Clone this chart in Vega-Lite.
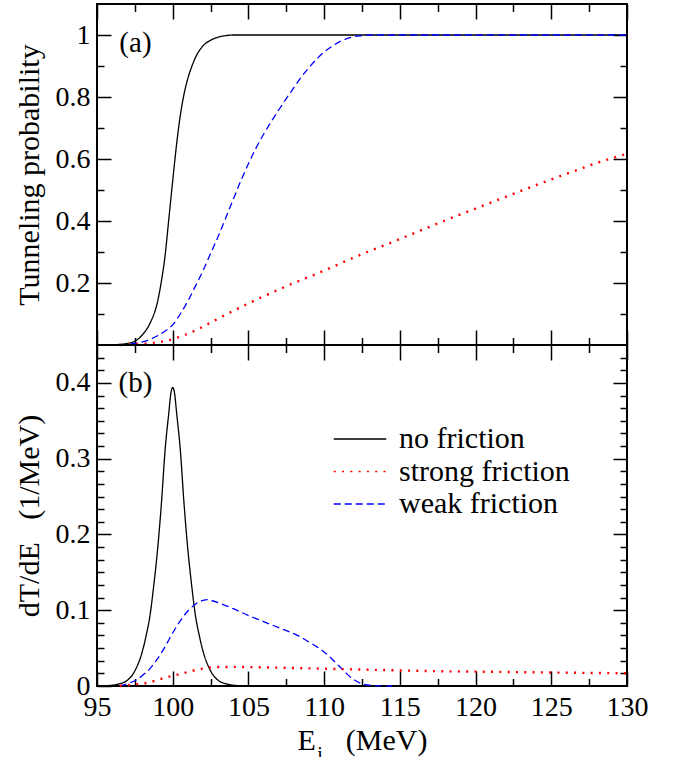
{
  "$schema": "https://vega.github.io/schema/vega-lite/v6.json",
  "padding": {"left": 13, "top": 2, "right": 10, "bottom": 0},
  "background": "white",
  "spacing": 0,
  "bounds": "flush",
  "config": {
    "font": "Liberation Serif",
    "view": {"stroke": "black", "strokeWidth": 2},
    "axis": {"domain": false, "grid": false, "tickColor": "black", "tickWidth": 1.5, "labelFont": "Liberation Serif", "labelFontSize": 28, "labelColor": "black", "titleFont": "Liberation Serif", "titleFontSize": 30, "titleFontWeight": "normal", "titleColor": "black", "labelFlush": false, "labelOverlap": false},
    "legend": {"labelFont": "Liberation Serif", "labelFontSize": 30, "labelColor": "black", "labelLimit": 0},
    "text": {"font": "Liberation Serif"}
  },
  "resolve": {"scale": {"color": "independent", "strokeDash": "independent"}},
  "datasets": {
    "T": [
      {"E": 95, "v": 0, "s": "no friction"}, {"E": 96, "v": 0.001, "s": "no friction"}, {"E": 96.5, "v": 0.002, "s": "no friction"}, {"E": 97, "v": 0.005, "s": "no friction"}, {"E": 97.5, "v": 0.012, "s": "no friction"}, {"E": 98, "v": 0.033, "s": "no friction"}, {"E": 98.5, "v": 0.07, "s": "no friction"}, {"E": 99, "v": 0.14, "s": "no friction"}, {"E": 99.25, "v": 0.205, "s": "no friction"}, {"E": 99.5, "v": 0.29, "s": "no friction"}, {"E": 99.75, "v": 0.41, "s": "no friction"}, {"E": 100, "v": 0.53, "s": "no friction"}, {"E": 100.25, "v": 0.645, "s": "no friction"}, {"E": 100.5, "v": 0.74, "s": "no friction"}, {"E": 100.75, "v": 0.81, "s": "no friction"}, {"E": 101, "v": 0.86, "s": "no friction"}, {"E": 101.25, "v": 0.897, "s": "no friction"}, {"E": 101.5, "v": 0.927, "s": "no friction"}, {"E": 102, "v": 0.965, "s": "no friction"}, {"E": 102.5, "v": 0.983, "s": "no friction"}, {"E": 103, "v": 0.993, "s": "no friction"}, {"E": 103.5, "v": 0.998, "s": "no friction"}, {"E": 104, "v": 1, "s": "no friction"}, {"E": 130, "v": 1, "s": "no friction"},
      {"E": 96.5, "v": 0, "s": "strong friction"}, {"E": 97, "v": 0.0005, "s": "strong friction"}, {"E": 97.5, "v": 0.002, "s": "strong friction"}, {"E": 98, "v": 0.004, "s": "strong friction"}, {"E": 98.5, "v": 0.006, "s": "strong friction"}, {"E": 99, "v": 0.009, "s": "strong friction"}, {"E": 99.5, "v": 0.013, "s": "strong friction"}, {"E": 100, "v": 0.019, "s": "strong friction"}, {"E": 100.5, "v": 0.027, "s": "strong friction"}, {"E": 101, "v": 0.036, "s": "strong friction"}, {"E": 101.5, "v": 0.047, "s": "strong friction"}, {"E": 102, "v": 0.059, "s": "strong friction"}, {"E": 102.5, "v": 0.072, "s": "strong friction"}, {"E": 103, "v": 0.085, "s": "strong friction"}, {"E": 104, "v": 0.11, "s": "strong friction"}, {"E": 105, "v": 0.134, "s": "strong friction"}, {"E": 106, "v": 0.157, "s": "strong friction"}, {"E": 107, "v": 0.179, "s": "strong friction"}, {"E": 108, "v": 0.2, "s": "strong friction"}, {"E": 110, "v": 0.24, "s": "strong friction"}, {"E": 112, "v": 0.283, "s": "strong friction"}, {"E": 114, "v": 0.322, "s": "strong friction"}, {"E": 116, "v": 0.362, "s": "strong friction"}, {"E": 118, "v": 0.402, "s": "strong friction"}, {"E": 120, "v": 0.44, "s": "strong friction"}, {"E": 122, "v": 0.478, "s": "strong friction"}, {"E": 124, "v": 0.516, "s": "strong friction"}, {"E": 126, "v": 0.552, "s": "strong friction"}, {"E": 128, "v": 0.587, "s": "strong friction"}, {"E": 130, "v": 0.617, "s": "strong friction"},
      {"E": 96.5, "v": 0, "s": "weak friction"}, {"E": 97, "v": 0.002, "s": "weak friction"}, {"E": 97.5, "v": 0.005, "s": "weak friction"}, {"E": 98, "v": 0.01, "s": "weak friction"}, {"E": 98.5, "v": 0.018, "s": "weak friction"}, {"E": 99, "v": 0.03, "s": "weak friction"}, {"E": 99.5, "v": 0.045, "s": "weak friction"}, {"E": 100, "v": 0.065, "s": "weak friction"}, {"E": 100.5, "v": 0.1, "s": "weak friction"}, {"E": 101, "v": 0.142, "s": "weak friction"}, {"E": 101.5, "v": 0.19, "s": "weak friction"}, {"E": 102, "v": 0.24, "s": "weak friction"}, {"E": 102.5, "v": 0.295, "s": "weak friction"}, {"E": 103, "v": 0.35, "s": "weak friction"}, {"E": 103.5, "v": 0.41, "s": "weak friction"}, {"E": 104, "v": 0.47, "s": "weak friction"}, {"E": 104.5, "v": 0.53, "s": "weak friction"}, {"E": 105, "v": 0.585, "s": "weak friction"}, {"E": 105.5, "v": 0.635, "s": "weak friction"}, {"E": 106, "v": 0.68, "s": "weak friction"}, {"E": 106.5, "v": 0.72, "s": "weak friction"}, {"E": 107, "v": 0.758, "s": "weak friction"}, {"E": 107.5, "v": 0.795, "s": "weak friction"}, {"E": 108, "v": 0.83, "s": "weak friction"}, {"E": 108.5, "v": 0.865, "s": "weak friction"}, {"E": 109, "v": 0.895, "s": "weak friction"}, {"E": 109.5, "v": 0.922, "s": "weak friction"}, {"E": 110, "v": 0.945, "s": "weak friction"}, {"E": 110.5, "v": 0.963, "s": "weak friction"}, {"E": 111, "v": 0.978, "s": "weak friction"}, {"E": 111.5, "v": 0.988, "s": "weak friction"}, {"E": 112, "v": 0.995, "s": "weak friction"}, {"E": 112.5, "v": 0.998, "s": "weak friction"}, {"E": 113, "v": 1, "s": "weak friction"}, {"E": 130, "v": 1, "s": "weak friction"}
    ],
    "D": [
      {"E": 95, "v": 0, "s": "no friction"}, {"E": 96, "v": 0.001, "s": "no friction"}, {"E": 96.5, "v": 0.003, "s": "no friction"}, {"E": 97, "v": 0.0075, "s": "no friction"}, {"E": 97.5, "v": 0.02, "s": "no friction"}, {"E": 98, "v": 0.046, "s": "no friction"}, {"E": 98.25, "v": 0.067, "s": "no friction"}, {"E": 98.5, "v": 0.093, "s": "no friction"}, {"E": 98.75, "v": 0.133, "s": "no friction"}, {"E": 99, "v": 0.18, "s": "no friction"}, {"E": 99.25, "v": 0.24, "s": "no friction"}, {"E": 99.5, "v": 0.312, "s": "no friction"}, {"E": 99.75, "v": 0.362, "s": "no friction"}, {"E": 99.875, "v": 0.386, "s": "no friction"}, {"E": 100, "v": 0.394, "s": "no friction"}, {"E": 100.125, "v": 0.386, "s": "no friction"}, {"E": 100.25, "v": 0.362, "s": "no friction"}, {"E": 100.5, "v": 0.312, "s": "no friction"}, {"E": 100.75, "v": 0.24, "s": "no friction"}, {"E": 101, "v": 0.18, "s": "no friction"}, {"E": 101.25, "v": 0.133, "s": "no friction"}, {"E": 101.5, "v": 0.093, "s": "no friction"}, {"E": 101.75, "v": 0.067, "s": "no friction"}, {"E": 102, "v": 0.046, "s": "no friction"}, {"E": 102.5, "v": 0.02, "s": "no friction"}, {"E": 103, "v": 0.0075, "s": "no friction"}, {"E": 103.5, "v": 0.003, "s": "no friction"}, {"E": 104, "v": 0.001, "s": "no friction"}, {"E": 105, "v": 0, "s": "no friction"}, {"E": 106, "v": 0, "s": "no friction"},
      {"E": 96.5, "v": 0, "s": "strong friction"}, {"E": 97, "v": 0.001, "s": "strong friction"}, {"E": 97.5, "v": 0.002, "s": "strong friction"}, {"E": 98, "v": 0.003, "s": "strong friction"}, {"E": 98.5, "v": 0.005, "s": "strong friction"}, {"E": 99, "v": 0.008, "s": "strong friction"}, {"E": 99.5, "v": 0.011, "s": "strong friction"}, {"E": 100, "v": 0.0135, "s": "strong friction"}, {"E": 100.5, "v": 0.016, "s": "strong friction"}, {"E": 101, "v": 0.0185, "s": "strong friction"}, {"E": 101.5, "v": 0.021, "s": "strong friction"}, {"E": 102, "v": 0.023, "s": "strong friction"}, {"E": 102.5, "v": 0.0245, "s": "strong friction"}, {"E": 103, "v": 0.025, "s": "strong friction"}, {"E": 104, "v": 0.0252, "s": "strong friction"}, {"E": 105, "v": 0.025, "s": "strong friction"}, {"E": 107, "v": 0.0242, "s": "strong friction"}, {"E": 110, "v": 0.0228, "s": "strong friction"}, {"E": 113, "v": 0.0215, "s": "strong friction"}, {"E": 117, "v": 0.0197, "s": "strong friction"}, {"E": 120, "v": 0.019, "s": "strong friction"}, {"E": 125, "v": 0.0178, "s": "strong friction"}, {"E": 130, "v": 0.0168, "s": "strong friction"},
      {"E": 96.5, "v": 0, "s": "weak friction"}, {"E": 97, "v": 0.003, "s": "weak friction"}, {"E": 97.5, "v": 0.007, "s": "weak friction"}, {"E": 98, "v": 0.014, "s": "weak friction"}, {"E": 98.5, "v": 0.023, "s": "weak friction"}, {"E": 99, "v": 0.036, "s": "weak friction"}, {"E": 99.5, "v": 0.052, "s": "weak friction"}, {"E": 100, "v": 0.07, "s": "weak friction"}, {"E": 100.5, "v": 0.086, "s": "weak friction"}, {"E": 101, "v": 0.099, "s": "weak friction"}, {"E": 101.5, "v": 0.108, "s": "weak friction"}, {"E": 102, "v": 0.113, "s": "weak friction"}, {"E": 102.3, "v": 0.114, "s": "weak friction"}, {"E": 102.6, "v": 0.1125, "s": "weak friction"}, {"E": 103, "v": 0.11, "s": "weak friction"}, {"E": 104, "v": 0.102, "s": "weak friction"}, {"E": 105, "v": 0.093, "s": "weak friction"}, {"E": 106, "v": 0.085, "s": "weak friction"}, {"E": 107, "v": 0.077, "s": "weak friction"}, {"E": 108, "v": 0.069, "s": "weak friction"}, {"E": 108.5, "v": 0.064, "s": "weak friction"}, {"E": 109, "v": 0.058, "s": "weak friction"}, {"E": 109.5, "v": 0.052, "s": "weak friction"}, {"E": 110, "v": 0.045, "s": "weak friction"}, {"E": 110.5, "v": 0.036, "s": "weak friction"}, {"E": 111, "v": 0.026, "s": "weak friction"}, {"E": 111.5, "v": 0.016, "s": "weak friction"}, {"E": 112, "v": 0.008, "s": "weak friction"}, {"E": 112.5, "v": 0.003, "s": "weak friction"}, {"E": 113, "v": 0.001, "s": "weak friction"}, {"E": 114, "v": 0, "s": "weak friction"}, {"E": 114.5, "v": 0, "s": "weak friction"}
    ]
  },
  "vconcat": [
    {
      "width": 530, "height": 341,
      "data": {"name": "T"},
      "resolve": {"axis": {"x": "independent", "y": "independent"}},
      "layer": [
        {
          "transform": [{"filter": "datum.s != 'strong friction'"}],
          "mark": {"type": "line", "strokeWidth": 1.3, "interpolate": "monotone"},
          "encoding": {
            "x": {"field": "E", "type": "quantitative", "scale": {"domain": [95, 130], "nice": false, "zero": false},
                  "axis": {"orient": "bottom", "values": [95, 100, 105, 110, 115, 120, 125, 130], "tickSize": -15, "labels": false, "title": null}},
            "y": {"field": "v", "type": "quantitative", "scale": {"domain": [0, 1.1], "nice": false},
                  "axis": {"orient": "left", "values": [0.2, 0.4, 0.6, 0.8, 1], "format": ".1~f", "tickSize": -14, "labelPadding": 21, "labelFont": "Liberation Serif", "title": "Tunneling probability", "titleFont": "Liberation Serif", "titleX": -59, "titleBaseline": "alphabetic"}},
            "color": {"field": "s", "type": "nominal", "scale": {"domain": ["no friction", "strong friction", "weak friction"], "range": ["#000000", "#ff0000", "#0000ff"]}, "legend": null},
            "strokeDash": {"field": "s", "type": "nominal", "scale": {"domain": ["no friction", "strong friction", "weak friction"], "range": [[1, 0], [2, 6.3], [7, 4]]}, "legend": null}
          }
        },
        {
          "transform": [{"filter": "datum.s == 'strong friction'"}],
          "mark": {"type": "line", "strokeWidth": 2.4, "interpolate": "monotone"},
          "encoding": {
            "x": {"field": "E", "type": "quantitative", "axis": {"orient": "bottom", "values": [97.5, 102.5, 107.5, 112.5, 117.5, 122.5, 127.5], "tickSize": -7.5, "labels": false, "title": null}},
            "y": {"field": "v", "type": "quantitative", "axis": {"orient": "left", "values": [0.1, 0.3, 0.5, 0.7, 0.9], "tickSize": -7, "labels": false, "title": null}},
            "color": {"field": "s", "type": "nominal", "legend": null},
            "strokeDash": {"field": "s", "type": "nominal", "legend": null}
          }
        },
        {
          "mark": {"type": "line", "strokeOpacity": 0},
          "encoding": {
            "x": {"field": "E", "type": "quantitative", "axis": {"orient": "top", "values": [95, 100, 105, 110, 115, 120, 125, 130], "tickSize": -15, "labels": false, "title": null}},
            "y": {"field": "v", "type": "quantitative", "axis": {"orient": "right", "values": [0.2, 0.4, 0.6, 0.8, 1], "tickSize": -14, "labels": false, "title": null}}
          }
        },
        {
          "mark": {"type": "line", "strokeOpacity": 0},
          "encoding": {
            "x": {"field": "E", "type": "quantitative", "axis": {"orient": "top", "values": [97.5, 102.5, 107.5, 112.5, 117.5, 122.5, 127.5], "tickSize": -7.5, "labels": false, "title": null}},
            "y": {"field": "v", "type": "quantitative", "axis": {"orient": "right", "values": [0.1, 0.3, 0.5, 0.7, 0.9], "tickSize": -7, "labels": false, "title": null}}
          }
        },
        {
          "data": {"values": [{"label": "(a)"}]},
          "mark": {"type": "text", "fontSize": 29, "font": "Liberation Serif", "align": "center", "baseline": "middle", "fill": "black"},
          "encoding": {
            "text": {"field": "label", "type": "nominal"},
            "x": {"datum": 97.54, "type": "quantitative", "axis": null},
            "y": {"datum": 0.975, "type": "quantitative", "axis": null}
          }
        }
      ]
    },
    {
      "width": 530, "height": 341,
      "data": {"name": "D"},
      "resolve": {"axis": {"x": "independent", "y": "independent"}},
      "layer": [
        {
          "transform": [{"filter": "datum.s != 'strong friction'"}],
          "mark": {"type": "line", "strokeWidth": 1.3, "interpolate": "monotone"},
          "encoding": {
            "x": {"field": "E", "type": "quantitative", "scale": {"domain": [95, 130], "nice": false, "zero": false},
                  "axis": {"orient": "bottom", "values": [95, 100, 105, 110, 115, 120, 125, 130], "tickSize": -15, "labelPadding": 22, "labelFont": "Liberation Serif", "title": "E\u00a0\u00a0\u00a0\u00a0(MeV)", "titleFont": "Liberation Serif", "titleY": 63, "titleBaseline": "alphabetic"}},
            "y": {"field": "v", "type": "quantitative", "scale": {"domain": [0, 0.45], "nice": false},
                  "axis": {"orient": "left", "values": [0, 0.1, 0.2, 0.3, 0.4], "format": ".1~f", "tickSize": -14, "labelPadding": 21, "labelFont": "Liberation Serif", "title": "dT/dE\u00a0\u00a0\u00a0(1/MeV)", "titleFont": "Liberation Serif", "titleX": -59, "titleBaseline": "alphabetic"}},
            "color": {"field": "s", "type": "nominal", "scale": {"domain": ["no friction", "strong friction", "weak friction"], "range": ["#000000", "#ff0000", "#0000ff"]},
                      "legend": {"orient": "none", "legendX": 247, "legendY": 78, "title": null, "symbolType": "M-1.75,0H1.75", "symbolSize": 900, "symbolStrokeWidth": 1.5, "labelOffset": 23, "rowPadding": 1.5, "padding": 0, "labelLimit": 0, "labelFont": "Liberation Serif"}},
            "strokeDash": {"field": "s", "type": "nominal", "scale": {"domain": ["no friction", "strong friction", "weak friction"], "range": [[1, 0], [2, 6.3], [7, 4]]},
                      "legend": {"orient": "none", "legendX": 247, "legendY": 78, "title": null, "symbolType": "M-1.75,0H1.75", "symbolSize": 900, "symbolStrokeWidth": 1.5, "labelOffset": 23, "rowPadding": 1.5, "padding": 0, "labelLimit": 0, "labelFont": "Liberation Serif"}}
          }
        },
        {
          "transform": [{"filter": "datum.s == 'strong friction'"}],
          "mark": {"type": "line", "strokeWidth": 2.4, "interpolate": "monotone"},
          "encoding": {
            "x": {"field": "E", "type": "quantitative", "axis": {"orient": "bottom", "values": [97.5, 102.5, 107.5, 112.5, 117.5, 122.5, 127.5], "tickSize": -7.5, "labels": false, "title": "i", "titleFont": "Liberation Serif", "titleFontSize": 20, "titleX": 222.5, "titleY": 74, "titleAlign": "center", "titleBaseline": "alphabetic"}},
            "y": {"field": "v", "type": "quantitative", "axis": {"orient": "left", "values": [0.016667, 0.033333, 0.05, 0.066667, 0.083333, 0.116667, 0.133333, 0.15, 0.166667, 0.183333, 0.216667, 0.233333, 0.25, 0.266667, 0.283333, 0.316667, 0.333333, 0.35, 0.366667, 0.383333, 0.416667, 0.433333], "tickSize": -7, "labels": false, "title": null}},
            "color": {"field": "s", "type": "nominal", "legend": null},
            "strokeDash": {"field": "s", "type": "nominal", "legend": null}
          }
        },
        {
          "mark": {"type": "line", "strokeOpacity": 0},
          "encoding": {
            "x": {"field": "E", "type": "quantitative", "axis": {"orient": "top", "values": [95, 100, 105, 110, 115, 120, 125, 130], "tickSize": -15, "labels": false, "title": null}},
            "y": {"field": "v", "type": "quantitative", "axis": {"orient": "right", "values": [0.1, 0.2, 0.3, 0.4], "tickSize": -14, "labels": false, "title": null}}
          }
        },
        {
          "mark": {"type": "line", "strokeOpacity": 0},
          "encoding": {
            "x": {"field": "E", "type": "quantitative", "axis": {"orient": "top", "values": [97.5, 102.5, 107.5, 112.5, 117.5, 122.5, 127.5], "tickSize": -7.5, "labels": false, "title": null}},
            "y": {"field": "v", "type": "quantitative", "axis": {"orient": "right", "values": [0.016667, 0.033333, 0.05, 0.066667, 0.083333, 0.116667, 0.133333, 0.15, 0.166667, 0.183333, 0.216667, 0.233333, 0.25, 0.266667, 0.283333, 0.316667, 0.333333, 0.35, 0.366667, 0.383333, 0.416667, 0.433333], "tickSize": -7, "labels": false, "title": null}}
          }
        },
        {
          "data": {"values": [{"label": "(b)"}]},
          "mark": {"type": "text", "fontSize": 29, "font": "Liberation Serif", "align": "center", "baseline": "middle", "fill": "black"},
          "encoding": {
            "text": {"field": "label", "type": "nominal"},
            "x": {"datum": 97.54, "type": "quantitative", "axis": null},
            "y": {"datum": 0.3998, "type": "quantitative", "axis": null}
          }
        }
      ]
    }
  ]
}
